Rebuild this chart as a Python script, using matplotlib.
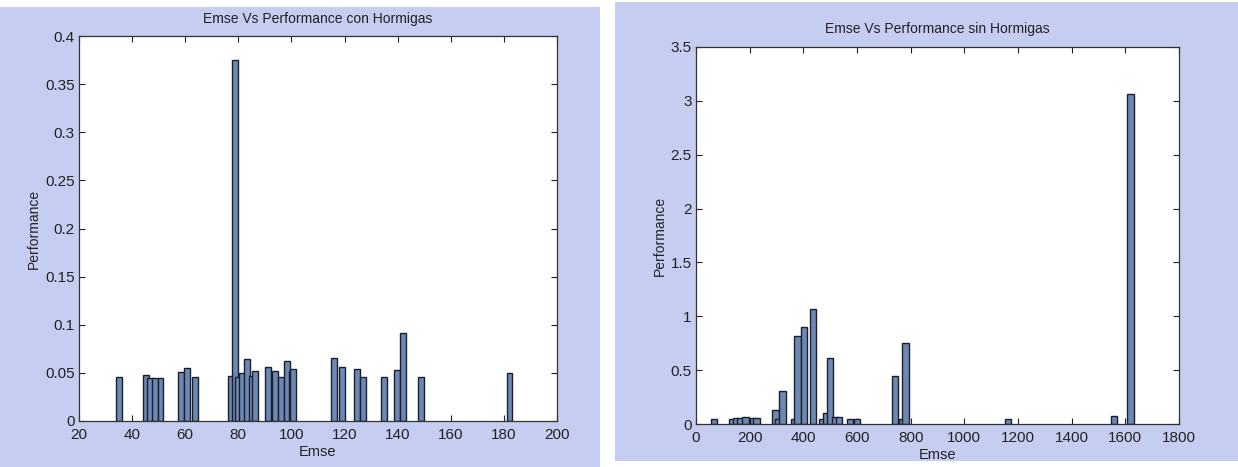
import matplotlib
matplotlib.use("Agg")
import matplotlib.pyplot as plt
from matplotlib import font_manager
from matplotlib.patches import Rectangle
from matplotlib.ticker import FuncFormatter

# ---------------- data ----------------
emse_con = [35.2, 45.1, 46.6, 48.6, 50.7, 58.4, 60.8, 63.8, 77.3, 78.8, 80.0,
            81.5, 83.4, 85.3, 86.2, 91.1, 93.8, 96.1, 98.2, 100.0, 100.7,
            115.9, 119.0, 124.8, 127.0, 134.8, 139.7, 141.9, 148.9, 182.1]
perf_con = [0.0458, 0.0478, 0.0444, 0.0444, 0.0444, 0.0506, 0.0548, 0.0458,
            0.0470, 0.3749, 0.0458, 0.0503, 0.0640, 0.0465, 0.0517, 0.0561,
            0.0517, 0.0458, 0.0620, 0.0517, 0.0537, 0.0654, 0.0561, 0.0540,
            0.0458, 0.0458, 0.0527, 0.0917, 0.0458, 0.0503]

emse_sin = [68, 135, 150, 165, 185, 213, 225, 297, 308, 322, 366, 378, 402,
            437, 470, 487, 499, 517, 533, 574, 599, 742, 770, 780, 1162,
            1557, 1620]
perf_sin = [0.05, 0.05, 0.055, 0.058, 0.065, 0.055, 0.06, 0.128, 0.05, 0.303,
            0.05, 0.82, 0.90, 1.065, 0.047, 0.106, 0.616, 0.063, 0.069, 0.047,
            0.047, 0.45, 0.05, 0.749, 0.047, 0.075, 3.067]

titles = ["Emse Vs Performance con Hormigas", "Emse Vs Performance sin Hormigas"]
xlabel = "Emse"
ylabel = "Performance"
xticks_con = [20, 40, 60, 80, 100, 120, 140, 160, 180, 200]
yticks_con = [0, 0.05, 0.1, 0.15, 0.2, 0.25, 0.3, 0.35, 0.4]
xticks_sin = [0, 200, 400, 600, 800, 1000, 1200, 1400, 1600, 1800]
yticks_sin = [0, 0.5, 1, 1.5, 2, 2.5, 3, 3.5]

# ---------------- style ----------------
names = {f.name for f in font_manager.fontManager.ttflist}
fam = [f for f in ["Liberation Sans Narrow", "Liberation Sans", "DejaVu Sans"] if f in names]
plt.rcParams['font.family'] = fam

W, H = 1238, 467
fig = plt.figure(figsize=(W / 100, H / 100), dpi=100)
fig.patch.set_facecolor("white")

panel_col = "#c5cdf1"
bar_face = "#6c89b4"
bar_edge = "#1c1f2b"

# lavender panels (pixel rects: x0, y_top, x1, y_bottom)
for (x0, y0, x1, y1) in [(0, 7, 600, 467), (615, 2, 1238, 461)]:
    fig.patches.append(Rectangle((x0 / W, 1 - y1 / H), (x1 - x0) / W, (y1 - y0) / H,
                                 transform=fig.transFigure, facecolor=panel_col,
                                 edgecolor="none", zorder=-5))

def px_axes(l, t, r, b):
    a = fig.add_axes([l / W, 1 - b / H, (r - l) / W, (b - t) / H])
    a.set_zorder(5)
    return a

ax1 = px_axes(79, 36, 557, 421)
ax2 = px_axes(696, 47, 1179, 424)

def fmt(v, pos):
    return "%g" % v

def style(ax, xt, yt, title, ty):
    ax.set_facecolor("white")
    ax.set_axisbelow(True)
    ax.set_xticks(xt)
    ax.set_yticks(yt)
    ax.xaxis.set_major_formatter(FuncFormatter(fmt))
    ax.yaxis.set_major_formatter(FuncFormatter(fmt))
    ax.tick_params(direction="in", length=4, width=0.8, top=True, right=True,
                   labelsize=11, colors="#222222", pad=3)
    ax.tick_params(axis="x", pad=5)
    for s in ax.spines.values():
        s.set_linewidth(0.9)
        s.set_color("#333333")
    ax.set_xlabel(xlabel, fontsize=10.5, labelpad=2, color="#222222")
    ax.set_ylabel(ylabel, fontsize=10, labelpad=3, color="#222222")
    ax.set_title(title, fontsize=10, pad=ty, color="#222222")

ax1.bar(emse_con, perf_con, width=2.2, color=bar_face, edgecolor=bar_edge, linewidth=1.0)
ax1.set_xlim(20, 200)
ax1.set_ylim(0, 0.4)
style(ax1, xticks_con, yticks_con, titles[0], 9)

ax2.bar(emse_sin, perf_sin, width=24, color=bar_face, edgecolor=bar_edge, linewidth=1.0)
ax2.set_xlim(0, 1800)
ax2.set_ylim(0, 3.5)
style(ax2, xticks_sin, yticks_sin, titles[1], 10)

fig.savefig("out.png", dpi=100, facecolor=fig.get_facecolor())
